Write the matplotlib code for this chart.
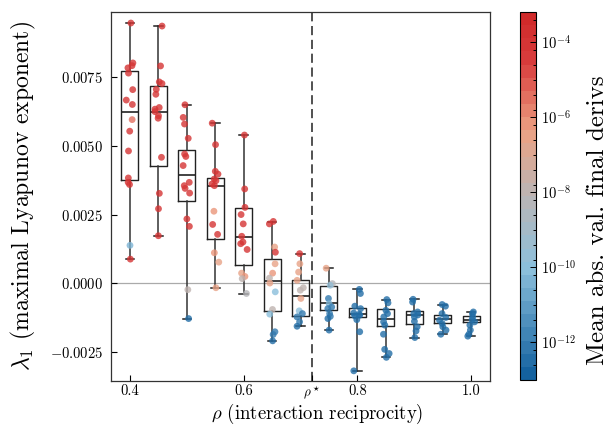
import matplotlib
matplotlib.use("Agg")
import matplotlib.pyplot as plt
import numpy as np
from matplotlib.colors import LinearSegmentedColormap, LogNorm
from matplotlib.ticker import FixedLocator, NullFormatter

plt.rcParams["font.family"] = "serif"
plt.rcParams["font.serif"] = ["cmr10"]
plt.rcParams["mathtext.fontset"] = "cm"
plt.rcParams["axes.formatter.use_mathtext"] = True

rho = [0.40, 0.45, 0.50, 0.55, 0.60, 0.65, 0.70, 0.75, 0.80, 0.85, 0.90, 0.95, 1.00]
rho_star = 0.72

# lambda_1 valores por grupo
lam = [
    [0.00946, 0.00801, 0.00791, 0.00783, 0.00764, 0.00704, 0.00666, 0.00650, 0.00595, 0.00553,
     0.00481, 0.00383, 0.00367, 0.00359, 0.00138, 0.00088],
    [0.00935, 0.00790, 0.00732, 0.00726, 0.00705, 0.00687, 0.00639, 0.00633, 0.00624, 0.00609,
     0.00600, 0.00458, 0.00327, 0.00271, 0.00173],
    [0.00649, 0.00603, 0.00579, 0.00527, 0.00470, 0.00461, 0.00428, 0.00367, 0.00355, 0.00345,
     0.00328, 0.00234, 0.00207, -0.00023, -0.00128],
    [0.00582, 0.00504, 0.00407, 0.00397, 0.00379, 0.00373, 0.00361, 0.00355, 0.00262, 0.00214,
     0.00178, 0.00111, 0.00077, -0.00016],
    [0.00539, 0.00343, 0.00276, 0.00250, 0.00216, 0.00171, 0.00150, 0.00144, 0.00123, 0.00037,
     0.00025, 0.00017, -0.00037],
    [0.00225, 0.00216, 0.00132, 0.00113, 0.00071, 0.00037, 0.00019, 0.00001, -0.00031, -0.00095,
     -0.00112, -0.00176, -0.00186, -0.00209],
    [0.00108, 0.00071, 0.00041, 0.00011, -0.00016, -0.00025, -0.00055, -0.00100, -0.00110,
     -0.00122, -0.00140, -0.00156],
    [0.00055, -0.00001, -0.00007, -0.00055, -0.00074, -0.00086, -0.00092, -0.00110, -0.00120,
     -0.00128, -0.00170],
    [-0.00022, -0.00037, -0.00083, -0.00092, -0.00108, -0.00112, -0.00116, -0.00118, -0.00132,
     -0.00176, -0.00318],
    [-0.00059, -0.00071, -0.00098, -0.00110, -0.00122, -0.00140, -0.00152, -0.00185, -0.00240,
     -0.00255, -0.00269],
    [-0.00058, -0.00068, -0.00104, -0.00110, -0.00115, -0.00122, -0.00138, -0.00158, -0.00173,
     -0.00197],
    [-0.00077, -0.00083, -0.00110, -0.00124, -0.00134, -0.00146, -0.00158, -0.00170, -0.00185],
    [-0.00104, -0.00110, -0.00122, -0.00132, -0.00140, -0.00152, -0.00170, -0.00185, -0.00192],
]

# log10 de la media |derivada final|
logderiv = [
    [-4, -4, -4, -4, -4, -4, -4, -4, -5.6, -4, -4, -4, -4, -4, -10.3, -4],
    [-4] * 15,
    [-4] * 13 + [-8, -12.5],
    [-4, -4, -4, -4, -4, -4, -4, -4, -6, -4, -4, -6, -6.5, -6.5],
    [-4, -4, -4, -4, -4, -4, -4, -4, -4, -6.5, -6, -8, -8.2],
    [-4, -4, -6.5, -4, -6.5, -6.3, -8, -6.5, -10, -8, -10, -12, -12, -12.5],
    [-4, -6.5, -6.5, -6.5, -8, -8, -6.5, -10, -12, -12, -12, -12.5],
    [-6.5, -8.3, -9.5, -12, -10.5, -12, -12, -12, -12, -12.5, -12.5],
    [-12.3] * 11,
    [-12.5] * 11,
    [-12.4] * 10,
    [-12.5] * 9,
    [-12.5] * 9,
]

# estadisticos de las cajas
whis_lo = [0.00088, 0.00173, -0.00128, -0.00016, -0.00037, -0.00209, -0.00156, -0.00170,
           -0.00318, -0.00269, -0.00197, -0.00185, -0.00192]
q1 = [0.00377, 0.00428, 0.00301, 0.00162, 0.00065, -0.00102, -0.00117, -0.00098,
      -0.00122, -0.00156, -0.00149, -0.00144, -0.00142]
med = [0.00623, 0.00624, 0.00394, 0.00353, 0.00170, 0.00010, -0.00047, -0.00070,
       -0.00112, -0.00130, -0.00116, -0.00128, -0.00132]
q3 = [0.00770, 0.00716, 0.00484, 0.00383, 0.00274, 0.00089, 0.00011, -0.00011,
      -0.00089, -0.00095, -0.00101, -0.00116, -0.00120]
whis_hi = [0.00946, 0.00935, 0.00649, 0.00582, 0.00539, 0.00222, 0.00106, 0.00055,
           -0.00022, -0.00059, -0.00058, -0.00077, -0.00104]

cmap = LinearSegmentedColormap.from_list(
    "deriv",
    [(0.0, "#14629f"), (0.30, "#8cc0dc"), (0.50, "#bab5b5"),
     (0.68, "#eca283"), (0.88, "#d83c3c"), (1.0, "#d02a2a")], N=28)
norm = LogNorm(vmin=1e-13, vmax=6.5e-4)

fig = plt.figure(figsize=(6.08, 4.25), dpi=100)
ax = fig.add_axes([0.1826, 0.1035, 0.6234, 0.8682])
cax = fig.add_axes([0.8553, 0.1059, 0.0263, 0.8659])

ax.axhline(0, color="#aaaaaa", lw=0.9, zorder=1)
ax.axvline(rho_star, color="#333333", lw=1.2, ls=(0, (5.5, 2.8)), zorder=1)

stats = []
for i in range(len(rho)):
    stats.append(dict(whislo=whis_lo[i], q1=q1[i], med=med[i], q3=q3[i], whishi=whis_hi[i]))
ax.bxp(stats, positions=rho, widths=0.03, showfliers=False, manage_ticks=False,
       boxprops=dict(color="#222222", lw=1.0),
       medianprops=dict(color="#222222", lw=1.2),
       whiskerprops=dict(color="#333333", lw=1.1),
       capprops=dict(color="#222222", lw=1.1), zorder=2)

rng = np.random.default_rng(7)
for i in range(len(rho)):
    y = np.array(lam[i])
    x = rho[i] + rng.uniform(-0.0065, 0.0065, len(y))
    c = 10.0 ** np.array(logderiv[i])
    sc = ax.scatter(x, y, c=c, cmap=cmap, norm=norm, s=24, alpha=0.8,
                    edgecolors="none", zorder=3)

ax.set_xlim(0.3667, 1.0333)
ax.set_ylim(-0.00355, 0.00986)
ax.set_yticks([-0.0025, 0.0, 0.0025, 0.0050, 0.0075])
ax.set_xticks([0.4, 0.6, rho_star, 0.8, 1.0])
ax.set_xticklabels(["0.4", "0.6", r"$\rho^\star$", "0.8", "1.0"])
ax.tick_params(direction="in", labelsize=10.5, length=4, width=0.8, pad=6)
ax.tick_params(axis="x", pad=2)
ax.get_xticklabels()[2].set_fontsize(9.5)
for s in ax.spines.values():
    s.set_linewidth(0.9)
    s.set_color("#333333")

ax.set_xlabel(r"$\rho$ (interaction reciprocity)", fontsize=13.5)
ax.xaxis.set_label_coords(0.544, -0.056)
ax.set_ylabel(r"$\lambda_1$ (maximal Lyapunov exponent)", fontsize=17)
ax.yaxis.set_label_coords(-0.193, 0.5)

cb = fig.colorbar(sc, cax=cax)
cb.solids.set_alpha(1)
cb.set_ticks([1e-12, 1e-10, 1e-8, 1e-6, 1e-4])
cb.ax.yaxis.set_minor_locator(FixedLocator(10.0 ** np.arange(-13, -3.1, 0.4)))
cb.ax.yaxis.set_minor_formatter(NullFormatter())
cb.ax.tick_params(which="both", direction="in", labelsize=10.5, width=0.7)
cb.ax.tick_params(which="major", length=4)
cb.ax.tick_params(which="minor", length=2)
cb.outline.set_linewidth(0.8)
cb.set_label("Mean abs. val. final derivs", fontsize=18)
cb.ax.yaxis.set_label_coords(4.2, 0.435)

plt.savefig("out.png", dpi=100)
